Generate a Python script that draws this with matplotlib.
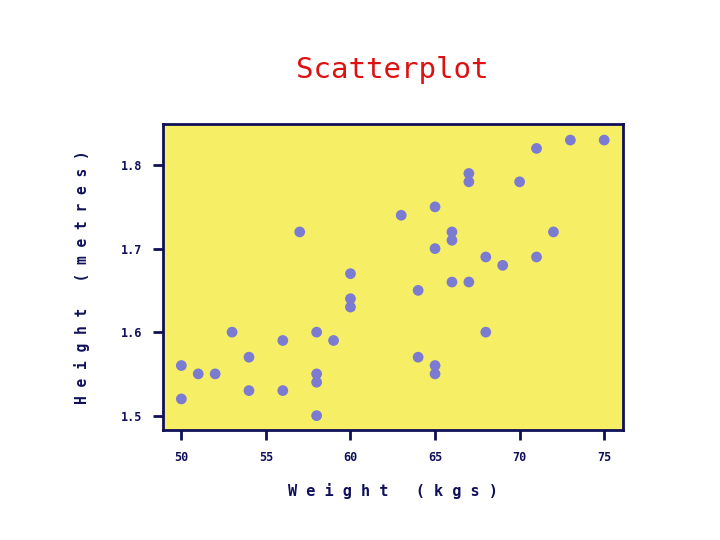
import matplotlib
matplotlib.use('Agg')
import matplotlib.pyplot as plt

# Weight (kgs) and height (metres)
weight = [50, 50, 51, 52, 53, 54, 54, 56, 56, 57, 58, 58, 58, 58, 59,
          60, 60, 60, 63, 64, 64, 65, 65, 65, 65, 66, 66, 66,
          67, 67, 67, 68, 68, 69, 70, 71, 71, 72, 73, 75]
height = [1.56, 1.52, 1.55, 1.55, 1.60, 1.57, 1.53, 1.59, 1.53, 1.72,
          1.60, 1.55, 1.54, 1.50, 1.59, 1.67, 1.64, 1.63, 1.74, 1.65,
          1.57, 1.75, 1.70, 1.56, 1.55, 1.72, 1.71, 1.66, 1.79, 1.78,
          1.66, 1.69, 1.60, 1.68, 1.78, 1.82, 1.69, 1.72, 1.83, 1.83]
xticks = [50, 55, 60, 65, 70, 75]
yticks = [1.5, 1.6, 1.7, 1.8]

navy = '#10105a'

fig = plt.figure(figsize=(7.2, 5.4), dpi=100)
ax = fig.add_axes([0.226, 0.204, 0.639, 0.566])
ax.set_facecolor('#f6ef66')

# the points
ax.scatter(weight, height, s=60, color='#7b7bd2', edgecolors='none', zorder=3)

ax.set_xlim(48.9, 76.1)
ax.set_ylim(1.483, 1.849)
ax.set_xticks(xticks)
ax.set_yticks(yticks)
ax.set_xticklabels([str(t) for t in xticks])
ax.set_yticklabels(['%.1f' % t for t in yticks])

for s in ax.spines.values():
    s.set_color(navy)
    s.set_linewidth(2)
ax.tick_params(direction='out', length=7, width=2, color=navy,
               labelcolor=navy, labelsize=8.5, pad=8)
for lab in ax.get_xticklabels() + ax.get_yticklabels():
    lab.set_family('DejaVu Sans Mono')
    lab.set_fontweight('bold')

# titles
fig.text(0.545, 0.87, 'Scatterplot', color='#dd1111', fontsize=21,
         family='DejaVu Sans Mono', ha='center', va='center')
ax.set_xlabel('W e i g h t   ( k g s )', color=navy, fontsize=11,
              family='DejaVu Sans Mono', fontweight='bold', labelpad=14)
ax.set_ylabel('H e i g h t   ( m e t r e s )', color=navy, fontsize=10.5,
              family='DejaVu Sans Mono', fontweight='bold', labelpad=22)

plt.savefig('out.png', dpi=100)
